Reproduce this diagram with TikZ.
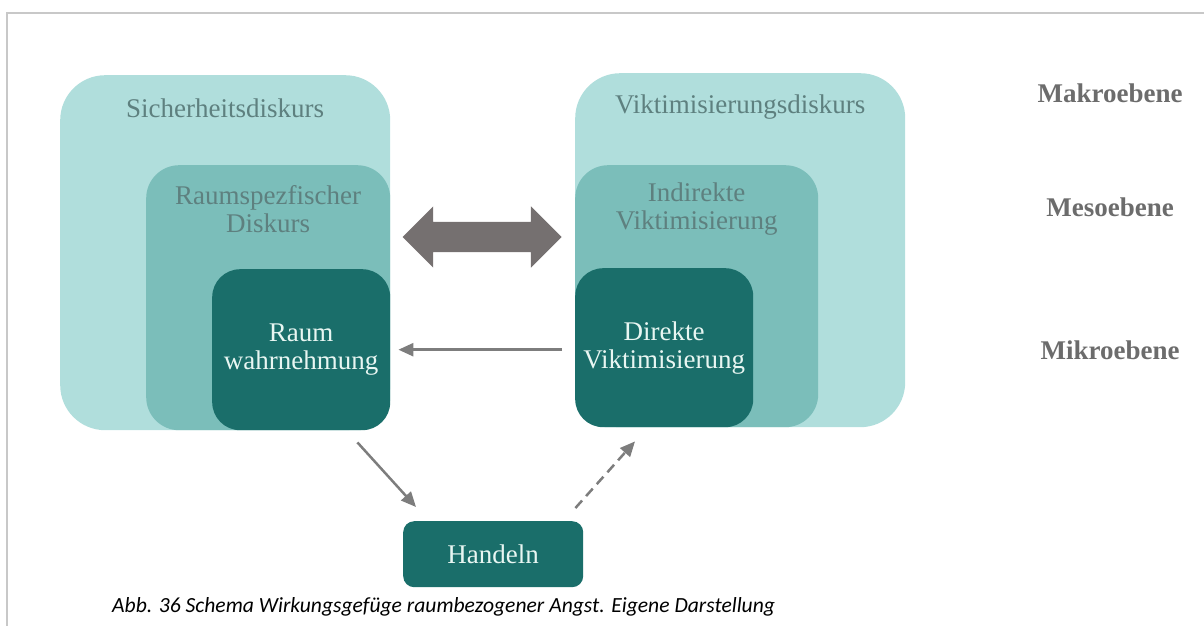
\documentclass[tikz,border=0pt]{standalone}
\usepackage{fontspec}
\setmainfont{Liberation Serif}
\newfontfamily\captionfont{Carlito}
\usetikzlibrary{arrows.meta,shapes.arrows,positioning}
\definecolor{paleteal}{RGB}{176,222,220}
\definecolor{midteal}{RGB}{123,190,186}
\definecolor{darkteal}{RGB}{26,110,106}
\definecolor{labelgray}{RGB}{94,128,127}
\definecolor{palewhite}{RGB}{232,246,242}
\definecolor{levelgray}{RGB}{108,108,108}
\definecolor{arrowgray}{RGB}{117,112,112}
\definecolor{linegray}{RGB}{125,125,125}
\definecolor{framegray}{RGB}{200,200,200}

\begin{document}
\begin{tikzpicture}[x=1pt,y=-1pt]

		\tikzset{
		    discbox/.style={rectangle, inner sep=0pt, anchor=north west},
		    outerbox/.style={discbox, fill=paleteal, rounded corners=45pt},
		    midbox/.style={discbox, fill=midteal, rounded corners=33pt},
		    innerbox/.style={discbox, fill=darkteal, rounded corners=28pt,
		        text=palewhite, align=center, font=\fontsize{27}{28}\selectfont},
		    disctext/.style={inner sep=0pt, text=labelgray, align=center,
		        font=\fontsize{27}{28}\selectfont},
		    leveltext/.style={inner sep=0pt, text=levelgray,
		        font=\bfseries\fontsize{27}{28}\selectfont},
		    flowarrow/.style={line width=2.5pt, linegray, -{Triangle[length=15pt,width=13pt]}}
		}

		\useasboundingbox (0,0) rectangle (1204,626);

		% frame
		\draw[framegray, line width=2pt] (7,626) -- (7,13) -- (1204,13);

		% left discourse boxes
		\node[outerbox, minimum width=330pt, minimum height=355pt] (sicher) at (60,75) {};
		\node[midbox, minimum width=244pt, minimum height=265pt] (raumdisk) at (146,165) {};
		\node[innerbox, minimum width=178pt, minimum height=161pt] (raum) at (212,269) {Raum\\wahrnehmung};

		\node[disctext] (sichertext) at ([shift={(0,33)}]sicher.north) {Sicherheitsdiskurs};
		\node[disctext] (raumdisktext) at ([shift={(0,44)}]raumdisk.north) {Raumspezfischer\\Diskurs};

		% right discourse boxes
		\node[outerbox, minimum width=330pt, minimum height=354pt] (viktim) at (575,73) {};
		\node[midbox, minimum width=243pt, minimum height=262pt] (indirekt) at (575,165) {};
		\node[innerbox, minimum width=178pt, minimum height=159pt] (direkt) at (575,268) {Direkte\\Viktimisierung};

		\node[disctext] (viktimtext) at ([shift={(0,34)}]viktim.north) {Viktimisierungsdiskurs};
		\node[disctext] (indirekttext) at ([shift={(0,44)}]indirekt.north) {Indirekte\\Viktimisierung};

		% action
		\node[discbox, fill=darkteal, rounded corners=11pt, minimum width=180pt, minimum height=66pt,
		    text=palewhite, font=\fontsize{27}{28}\selectfont] (handeln) at (403,521) {Handeln};

		% exchange between discourses
		\node[double arrow, fill=arrowgray, inner xsep=0pt, inner ysep=15pt, minimum height=159pt,
		    double arrow head extend=15.5pt, double arrow head indent=0pt] (exchange) at (482,237) {};

		% connectors
		\draw[flowarrow, shorten <=13pt, shorten >=8pt] (direkt.west |- raum.east) -- (raum.east);
		\draw[flowarrow] ([shift={(-33,12)}]raum.south east) -- ([shift={(13,-14)}]handeln.north west);
		\draw[flowarrow, dash pattern=on 10pt off 6pt] ([shift={(-8,-13)}]handeln.north east) -- ([shift={(60,14)}]direkt.south west);

		% levels
		\node[leveltext] (makro) at (1110,93) {Makroebene};
		\node[leveltext] (meso) at (1110,207) {Mesoebene};
		\node[leveltext] (mikro) at (1110,350) {Mikroebene};

		% caption
		\node[anchor=west, inner sep=0pt, font=\captionfont\itshape\fontsize{21.6}{26}\selectfont] (caption) at (112,607)
		    {Abb. 36 Schema Wirkungsgefüge raumbezogener Angst. Eigene Darstellung};

\end{tikzpicture}
\end{document}
